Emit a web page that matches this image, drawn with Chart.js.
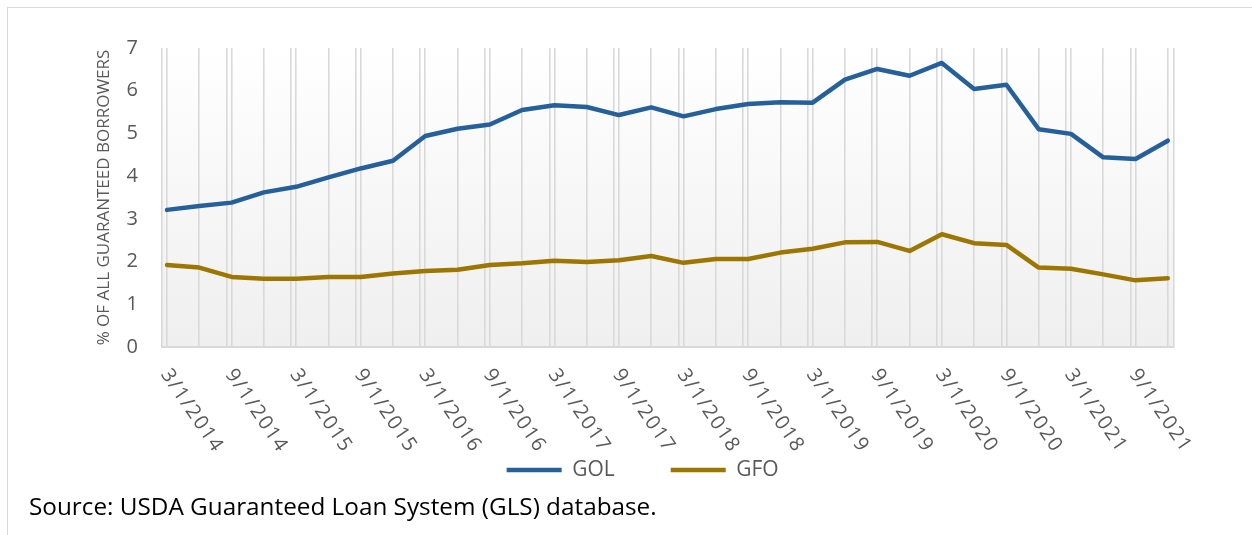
<!DOCTYPE html>
<html>
<head>
<meta charset="utf-8">
<script src="https://cdn.jsdelivr.net/npm/chart.js@4/dist/chart.umd.min.js"></script>
<style>
  body { margin: 0; background: #fff; }
  #wrap { position: relative; width: 1252px; height: 535px; overflow: hidden; }
  #frame { position: absolute; left: 7px; top: 7px; width: 1260px; height: 540px;
           border-left: 1.5px solid #d9d9d9; border-top: 1.5px solid #d9d9d9; }
  #chart { position: absolute; left: 0; top: 0; }
  #source { position: absolute; left: 29px; top: 489px; font: 24.3px "Open Sans", sans-serif; color: #000; white-space: nowrap; }
</style>
</head>
<body>
<div id="wrap">
  <div id="frame"></div>
  <canvas id="chart" width="1252" height="535"></canvas>
  <div id="source">Source: USDA Guaranteed Loan System (GLS) database.</div>
</div>
<script>
// quarterly dates
const quarters = [
  '3/1/2014', '6/1/2014', '9/1/2014', '12/1/2014',
  '3/1/2015', '6/1/2015', '9/1/2015', '12/1/2015',
  '3/1/2016', '6/1/2016', '9/1/2016', '12/1/2016',
  '3/1/2017', '6/1/2017', '9/1/2017', '12/1/2017',
  '3/1/2018', '6/1/2018', '9/1/2018', '12/1/2018',
  '3/1/2019', '6/1/2019', '9/1/2019', '12/1/2019',
  '3/1/2020', '6/1/2020', '9/1/2020', '12/1/2020',
  '3/1/2021', '6/1/2021', '9/1/2021', '12/1/2021'
];

// % of all guaranteed borrowers
const golValues = [3.21, 3.30, 3.38, 3.62, 3.75, 3.97, 4.18, 4.36, 4.94, 5.11, 5.21, 5.55, 5.66, 5.62, 5.43, 5.61,
                   5.40, 5.57, 5.69, 5.73, 5.72, 6.26, 6.51, 6.35, 6.65, 6.04, 6.14, 5.10, 4.99, 4.44, 4.40, 4.83];
const gfoValues = [1.92, 1.86, 1.64, 1.60, 1.60, 1.64, 1.64, 1.72, 1.78, 1.81, 1.92, 1.96, 2.02, 1.99, 2.03, 2.13,
                   1.97, 2.06, 2.06, 2.21, 2.30, 2.45, 2.46, 2.25, 2.64, 2.43, 2.39, 1.86, 1.83, 1.70, 1.56, 1.61];

const yTicks = [0, 1, 2, 3, 4, 5, 6, 7];

const GRAY = '#595959';
const GRID = '#d9d9d9';
const EDGE = 0.155; // small gap between axis edge and first point

const toPoints = vals => vals.map((v, i) => ({ x: i, y: v }));

// plot area gradient background
const plotBackground = {
  id: 'plotBackground',
  beforeDraw(chart) {
    const { ctx, chartArea: a } = chart;
    const g = ctx.createLinearGradient(0, a.top, 0, a.bottom);
    g.addColorStop(0, '#ffffff');
    g.addColorStop(1, '#efefef');
    ctx.save();
    ctx.fillStyle = g;
    ctx.fillRect(a.left, a.top, a.right - a.left, a.bottom - a.top);
    ctx.restore();
  }
};

// slanted date labels, every second quarter
const slantLabels = {
  id: 'slantLabels',
  afterDraw(chart) {
    const { ctx, chartArea: a } = chart;
    const xs = chart.scales.x;
    ctx.save();
    ctx.font = '20px "Open Sans", sans-serif';
    ctx.fillStyle = GRAY;
    ctx.textAlign = 'left';
    ctx.textBaseline = 'middle';
    if ('letterSpacing' in ctx) ctx.letterSpacing = '1.6px';
    quarters.forEach((lab, i) => {
      if (i % 2 !== 0) return;
      const x = xs.getPixelForValue(i);
      ctx.save();
      ctx.translate(x - 2, a.bottom + 24);
      ctx.rotate(56 * Math.PI / 180);
      ctx.fillText(lab, 0, 0);
      ctx.restore();
    });
    ctx.restore();
  }
};

new Chart(document.getElementById('chart'), {
  type: 'line',
  data: {
    datasets: [{
      label: 'GOL',
      data: toPoints(golValues),
      borderColor: '#26609A',
      backgroundColor: '#26609A',
      borderWidth: 4.5,
      borderCapStyle: 'round',
      borderJoinStyle: 'round',
      pointRadius: 0,
      tension: 0
    }, {
      label: 'GFO',
      data: toPoints(gfoValues),
      borderColor: '#9D7600',
      backgroundColor: '#9D7600',
      borderWidth: 4.5,
      borderCapStyle: 'round',
      borderJoinStyle: 'round',
      pointRadius: 0,
      tension: 0
    }]
  },
  options: {
    responsive: false,
    animation: false,
    layout: { padding: { left: 112, right: 78.7, top: 48, bottom: 44.5 } },
    plugins: {
      tooltip: { enabled: false },
      legend: {
        position: 'bottom',
        labels: {
          usePointStyle: true,
          pointStyle: 'line',
          pointStyleWidth: 55,
          boxWidth: 55,
          padding: 56,
          color: GRAY,
          font: { family: '"Open Sans", sans-serif', size: 21 }
        }
      }
    },
    scales: {
      x: {
        type: 'linear',
        min: -EDGE,
        max: quarters.length - 1 + 0.17,
        afterBuildTicks: scale => {
          const t = [];
          quarters.forEach((q, i) => {
            t.push({ value: i });
            if (i % 2 === 0) t.push({ value: i - EDGE });
          });
          t.push({ value: quarters.length - 1 + 0.17 });
          scale.ticks = t;
        },
        afterFit: scale => { scale.height = 56.5; },
        ticks: { display: false },
        grid: { color: GRID, lineWidth: 1.6, drawTicks: false },
        border: { display: true, color: GRID, width: 2 }
      },
      y: {
        min: yTicks[0],
        max: yTicks[yTicks.length - 1],
        afterBuildTicks: scale => { scale.ticks = yTicks.map(v => ({ value: v })); },
        afterFit: scale => { scale.width = 50; },
        ticks: { color: GRAY, padding: 24, font: { family: '"Open Sans", sans-serif', size: 20 } },
        grid: { display: false, drawTicks: false },
        border: { display: false },
        title: {
          display: true,
          text: '% OF ALL GUARANTEED BORROWERS',
          color: GRAY,
          padding: { top: -18, bottom: 0 },
          font: { family: '"Open Sans", sans-serif', size: 17 }
        }
      }
    }
  },
  plugins: [plotBackground, slantLabels]
});
</script>
</body>
</html>
